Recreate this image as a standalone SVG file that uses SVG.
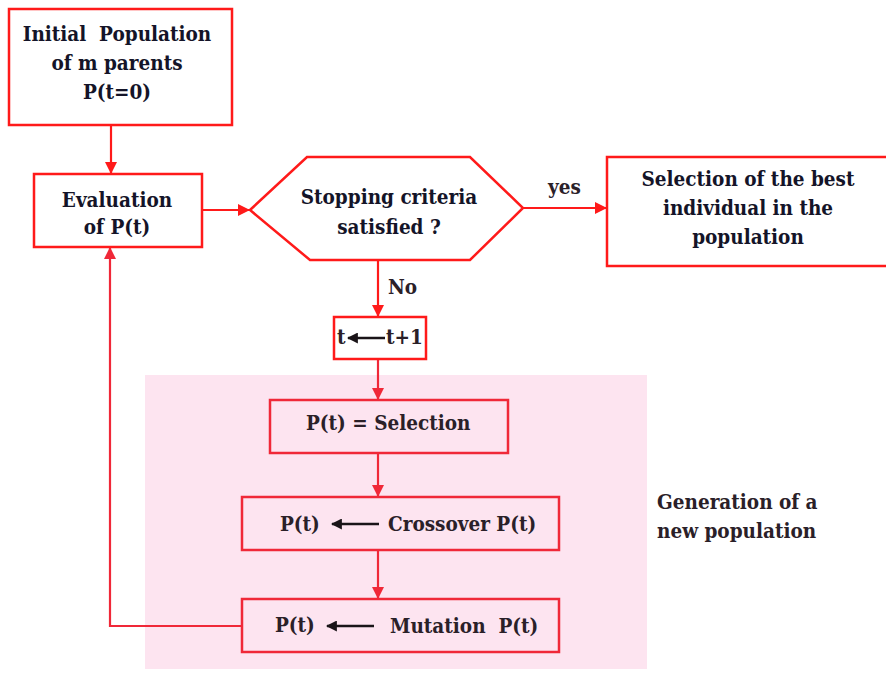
<svg xmlns="http://www.w3.org/2000/svg" width="886" height="674" viewBox="0 0 886 674">
<defs>
<style>
.box{fill:none;stroke:#ff1a1a;stroke-width:2.5}
.box2{fill:none;stroke:#f02838;stroke-width:2.5}
.t{font-family:'DejaVu Serif Condensed','DejaVu Serif',serif;font-stretch:condensed;font-weight:700;font-size:20.5px;fill:#141428;text-anchor:middle}
.tl{font-family:'DejaVu Serif Condensed','DejaVu Serif',serif;font-stretch:condensed;font-weight:700;font-size:20.5px;fill:#2a2028}
.c{fill:none;stroke:#ff1a1a;stroke-width:2.2}
.c2{fill:none;stroke:#f02838;stroke-width:2.2}
.k{fill:none;stroke:#1a1418;stroke-width:2.5}
</style>
<marker id="ar" viewBox="0 0 10 10" refX="10" refY="5" markerWidth="12" markerHeight="12" markerUnits="userSpaceOnUse" orient="auto"><path d="M0,0 L10,5 L0,10 Z" fill="#ff1a1a"/></marker>
<marker id="ar2" viewBox="0 0 10 10" refX="10" refY="5" markerWidth="12" markerHeight="12" markerUnits="userSpaceOnUse" orient="auto"><path d="M0,0 L10,5 L0,10 Z" fill="#f02838"/></marker>
<marker id="ak" viewBox="0 0 10 10" refX="9" refY="5" markerWidth="11" markerHeight="11" markerUnits="userSpaceOnUse" orient="auto"><path d="M0,0 L10,5 L0,10 Z" fill="#1a1418"/></marker>
</defs>
<rect x="0" y="0" width="886" height="674" fill="#ffffff"/>
<rect x="145" y="375" width="502" height="294" fill="#fde4f0"/>

<g id="connectors">
<line class="c" x1="111" y1="125" x2="111" y2="174" marker-end="url(#ar)"/>
<line class="c" x1="202" y1="210" x2="250" y2="210" marker-end="url(#ar)"/>
<line class="c" x1="523" y1="208" x2="607" y2="208" marker-end="url(#ar)"/>
<line class="c" x1="378" y1="260" x2="378" y2="317" marker-end="url(#ar)"/>
<line class="c2" x1="378" y1="359" x2="378" y2="400" marker-end="url(#ar2)"/>
<line class="c2" x1="378" y1="453" x2="378" y2="497" marker-end="url(#ar2)"/>
<line class="c2" x1="378" y1="550" x2="378" y2="599" marker-end="url(#ar2)"/>
<polyline class="c2" points="242,626 110,626 110,247" marker-end="url(#ar2)"/>
<text class="tl" x="548" y="194">yes</text>
<text class="tl" x="388" y="294">No</text>
</g>

<g id="init">
<rect class="box" x="9" y="9" width="223" height="116"/>
<text class="t" x="117" y="41" xml:space="preserve">Initial  Population</text>
<text class="t" x="117" y="70">of m parents</text>
<text class="t" x="117" y="99">P(t=0)</text>
</g>

<g id="eval">
<rect class="box" x="34" y="174" width="168" height="73"/>
<text class="t" x="117" y="207">Evaluation</text>
<text class="t" x="117" y="234">of P(t)</text>
</g>

<g id="stop">
<polygon class="box" points="250,210 307,157 470,157 523,208 470,260 310,260"/>
<text class="t" x="389" y="204">Stopping criteria</text>
<text class="t" x="389" y="234">satisfied ?</text>
</g>

<g id="best">
<rect class="box" x="607" y="157" width="283" height="109"/>
<text class="t" x="748" y="186">Selection of the best</text>
<text class="t" x="748" y="215">individual in the</text>
<text class="t" x="748" y="244">population</text>
</g>

<g id="incr">
<rect class="box" x="334" y="317" width="92" height="42"/>
<text class="tl" x="337" y="344">t</text>
<line class="k" x1="385" y1="338" x2="348" y2="338" marker-end="url(#ak)"/>
<text class="tl" x="386" y="344">t+1</text>
</g>

<g id="selection">
<rect class="box2" x="270" y="400" width="238" height="53"/>
<text class="tl" x="306" y="430">P(t) = Selection</text>
</g>

<g id="crossover">
<rect class="box2" x="242" y="497" width="317" height="53"/>
<text class="tl" x="280" y="531">P(t)</text>
<line class="k" x1="379" y1="524" x2="332" y2="524" marker-end="url(#ak)"/>
<text class="tl" x="388" y="531">Crossover P(t)</text>
</g>

<g id="mutation">
<rect class="box2" x="242" y="599" width="317" height="53"/>
<text class="tl" x="275" y="632">P(t)</text>
<line class="k" x1="374" y1="626" x2="327" y2="626" marker-end="url(#ak)"/>
<text class="tl" x="390" y="633" xml:space="preserve">Mutation  P(t)</text>
</g>

<g id="genlabel">
<text class="tl" x="657" y="509">Generation of a</text>
<text class="tl" x="657" y="538">new population</text>
</g>
</svg>
